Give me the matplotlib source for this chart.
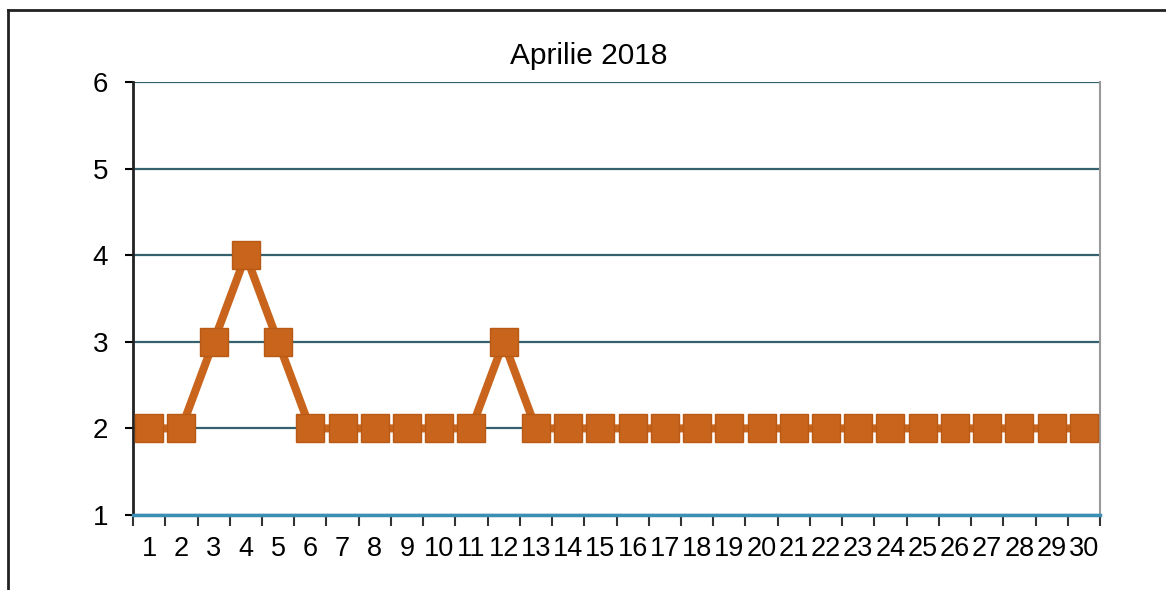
import matplotlib
matplotlib.use("Agg")
import matplotlib.pyplot as plt
from matplotlib.lines import Line2D

plt.rcParams['font.family'] = ['Liberation Sans', 'DejaVu Sans']

# data
days = list(range(1, 31))
values = [2, 2, 3, 4, 3, 2, 2, 2, 2, 2, 2, 3, 2, 2, 2, 2, 2, 2, 2, 2,
          2, 2, 2, 2, 2, 2, 2, 2, 2, 2]
title = 'Aprilie 2018'

fig = plt.figure(figsize=(11.66, 5.9), dpi=100)
ax = fig.add_axes([0.1141, 0.1271, 0.8293, 0.7339])

orange = '#c8641c'
ax.plot(days, values, color=orange, linewidth=5.8, marker='s',
        markersize=20.5, markerfacecolor=orange, markeredgecolor='#b85a16',
        zorder=3)

ax.set_xlim(0.5, 30.5)
ax.set_ylim(1, 6)
ax.set_yticks([1, 2, 3, 4, 5, 6])
ax.grid(axis='y', color='#35606e', linewidth=1.6)
ax.set_axisbelow(True)

# category ticks between days, labels at day centers
ax.set_xticks(days)
ax.set_xticklabels([str(d) for d in days])
ax.set_xticks([d + 0.5 for d in range(0, 31)], minor=True)
ax.tick_params(axis='x', which='major', length=0, pad=15, labelsize=19.5)
ax.tick_params(axis='x', which='minor', length=8, width=1.5, color='#333333',
               direction='out')
ax.tick_params(axis='y', length=6, width=1.5, pad=12, labelsize=20)

ax.spines['top'].set_visible(False)
ax.spines['right'].set_color('#999999')
ax.spines['right'].set_linewidth(1.5)
ax.spines['left'].set_color('#222222')
ax.spines['left'].set_linewidth(2)
ax.spines['bottom'].set_color('#3a8fb5')
ax.spines['bottom'].set_linewidth(2.5)

fig.text(0.505, 0.905, title, ha='center', va='center', fontsize=21.5)

# outer chart frame (top and left edges visible in scan)
fig.add_artist(Line2D([8 / 1166, 8 / 1166], [0, 1 - 10 / 590],
                      transform=fig.transFigure, color='#222222', linewidth=2))
fig.add_artist(Line2D([8 / 1166, 1], [1 - 10 / 590, 1 - 10 / 590],
                      transform=fig.transFigure, color='#222222', linewidth=2))

fig.savefig('out.png', dpi=100)
